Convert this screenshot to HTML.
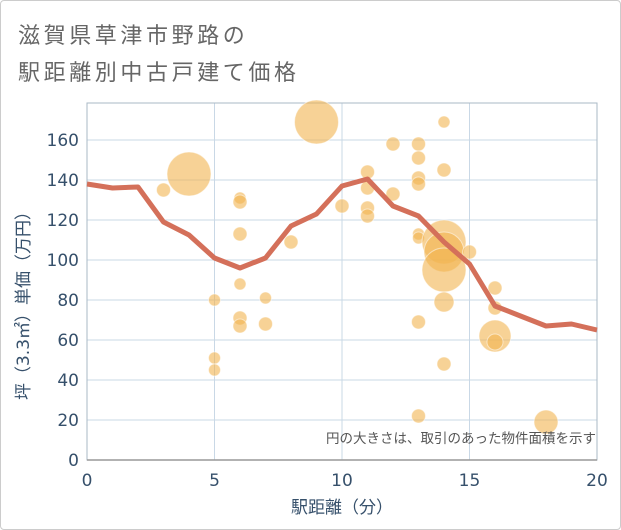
<!DOCTYPE html>
<html><head><meta charset="utf-8"><style>
body{margin:0;background:#fff}
#wrap{position:relative;width:619px;height:528px;border:1px solid #ccc;border-radius:4px;overflow:hidden}
.title{position:absolute;left:17px;font:22px "Liberation Sans","Noto Sans CJK JP",sans-serif;color:#666;letter-spacing:3.6px}
svg text{font-family:"DejaVu Sans","Noto Sans CJK JP",sans-serif}
</style></head><body>
<div id="wrap">
<div class="title" style="top:17px">滋賀県草津市野路の</div>
<div class="title" style="top:54px">駅距離別中古戸建て価格</div>
<svg id="chart" width="621" height="530" style="position:absolute;left:-1px;top:-1px"></svg>
</div>
<script>
const xTicks=[0,5,10,15,20];
const yTicks=[0,20,40,60,80,100,120,140,160];
const bubbleX=[3,4,5,5,5,6,6,6,6,6,6,7,7,8,9,10,11,11,11,11,12,12,13,13,13,13,13,13,13,13,14,14,14,14,14,14,14,15,16,16,16,16,18];
const bubbleY=[135,143,80,51,45,131,129,113,88,71,67,81,68,109,169,127,144,136,126,122,158,133,158,151,141,138,113,111,69,22,169,145,109,104,95,79,48,104,86,76,62,59,19];
const bubbleSize=[7,22,6,6,6,6,7,7,6,7,7,6,7,7,22,7,7,7,7,7,7,7,7,7,7,7,6,6,7,7,6,7,22,20,22,10,7,7,7,7,16,8,12];
const lineX=[0,1,2,3,4,5,6,7,8,9,10,11,12,13,14,15,16,17,18,19,20];
const lineY=[138,136,136.5,119,112.5,101,96,101,117,123,137,140.5,127,122,109,98,77,72,67,68,65];
const NS='http://www.w3.org/2000/svg';
const svg=document.getElementById('chart');
const L=87,R=597,T=103,B=460;
const sx=v=>L+(v-0)/20*(R-L);
const sy=v=>B-v*2;
function mk(tag,attrs){const e=document.createElementNS(NS,tag);for(const k in attrs)e.setAttribute(k,attrs[k]);svg.appendChild(e);return e;}
yTicks.forEach(t=>{
  if(t>0){const g=mk('line',{x1:L,x2:R,y1:sy(t),y2:sy(t),stroke:'#c9d8e6','stroke-width':1});
  
  }
  const tx=mk('text',{x:L-8,y:sy(t)+6,'text-anchor':'end','font-size':17,fill:'#36506b'});tx.textContent=t;
  
  
});
xTicks.forEach(t=>{
  if(t>0&&t<20){const g=mk('line',{x1:sx(t),x2:sx(t),y1:T,y2:B,stroke:'#c9d8e6','stroke-width':1});
  
  }
  const tx=mk('text',{x:sx(t),y:B+26,'text-anchor':'middle','font-size':17,fill:'#36506b'});tx.textContent=t;
  
  
});
const fr=mk('rect',{x:L,y:T,width:R-L,height:B-T,fill:'none',stroke:'#aab8c6','stroke-width':1});


const ax=mk('line',{x1:L,x2:R,y1:B,y2:B,stroke:'#999','stroke-width':1.5});


bubbleX.forEach((x,i)=>{
  const c=mk('circle',{cx:sx(x),cy:sy(bubbleY[i]),r:bubbleSize[i],fill:'rgba(241,180,80,0.6)',stroke:'rgba(255,255,255,0.5)','stroke-width':1});
  
  
});
const p=mk('polyline',{points:lineX.map((x,i)=>sx(x)+','+sy(lineY[i])).join(' '),fill:'none',stroke:'#d4705a','stroke-width':5,'stroke-linejoin':'round'});


const note=mk('text',{x:596,y:443,'text-anchor':'end','font-size':13.5,fill:'#555'});note.textContent='円の大きさは、取引のあった物件面積を示す';


const xt=mk('text',{x:(L+R)/2,y:513,'text-anchor':'middle','font-size':17,fill:'#36506b'});xt.textContent='駅距離（分）';


const yt=mk('text',{x:0,y:0,'text-anchor':'middle','font-size':17,fill:'#36506b',transform:'translate(29,'+((T+B)/2+20)+') rotate(-90)'});yt.textContent='坪（3.3㎡）単価（万円）';


</script>
</body></html>
